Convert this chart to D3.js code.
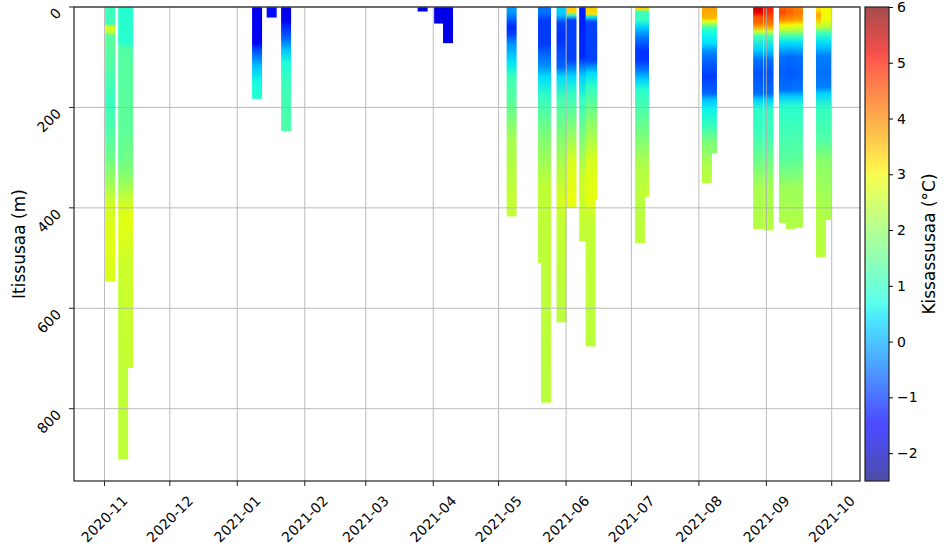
<!DOCTYPE html>
<html>
<head>
<meta charset="utf-8">
<title>Itissusaa</title>
<script src="https://d3js.org/d3.v7.min.js"></script>
<style>
    body { margin: 0; background: #fff; }
    text { font-family: "DejaVu Sans", sans-serif; fill: #000; }
</style>
</head>
<body>
<div id="chart"></div>

<script type="text/javascript">
    // one entry per cast, UTC "YYYY-MM-DD HH"
    let castDates = [
        "2020-11-03 15", "2020-11-09 14", "2020-11-11 21",
        "2021-01-10 02", "2021-01-16 19", "2021-01-23 10",
        "2021-03-27 03", "2021-04-03 17", "2021-04-07 19",
        "2021-05-07 00", "2021-05-21 10", "2021-05-22 19", "2021-05-29 22",
        "2021-06-03 12", "2021-06-09 07", "2021-06-12 07", "2021-06-13 00",
        "2021-07-05 00", "2021-07-06 19",
        "2021-08-04 17", "2021-08-07 00", "2021-08-28 05",
        "2021-09-02 00", "2021-09-09 02", "2021-09-12 07", "2021-09-15 12",
        "2021-09-26 02", "2021-09-28 10"
    ]

    // temperature profiles: [depth m, temperature °C], last row is the cast bottom
    let castProfiles = [
        [[0,1.1],[34,1.1],[38,2.6],[50,2.5],[56,1.4],[120,1.3],[185,1.05],[250,1.3],[300,1.6],[350,2.1],[390,2.6],[450,2.8],[547,2.75]],
        [[0,0.85],[70,0.9],[80,1.3],[200,1.4],[300,1.5],[350,2.0],[400,2.7],[450,2.8],[520,2.55],[720,2.45],[901,2.45]],
        [[0,0.85],[72,0.9],[85,1.35],[250,1.45],[330,1.8],[380,2.5],[420,2.85],[500,2.6],[719,2.5]],
        [[0,-1.7],[72,-1.6],[86,-0.8],[119,0.2],[152,0.7],[183,0.9]],
        [[0,-1.35],[21,-1.35]],
        [[0,-1.75],[26,-1.7],[45,-1.0],[66,-0.5],[86,0.2],[112,0.8],[152,1.1],[247,1.3]],
        [[0,-1.75],[9,-1.75]],
        [[0,-1.75],[33,-1.75]],
        [[0,-1.75],[72,-1.75]],
        [[0,-0.1],[12,-0.2],[39,-1.1],[55,-0.9],[72,-0.25],[112,0.5],[139,1.1],[199,1.5],[265,2.2],[385,2.5],[417,2.45]],
        [[0,-0.45],[12,-0.5],[26,-0.95],[72,-0.95],[119,-0.2],[139,0.4],[179,1.0],[252,1.75],[358,2.45],[510,2.4]],
        [[0,-0.45],[12,-0.5],[26,-0.95],[72,-0.95],[119,-0.2],[139,0.4],[179,1.0],[252,1.75],[358,2.45],[788,2.4]],
        [[0,0.3],[15,0.2],[32,-0.9],[60,-1.05],[119,-0.6],[139,0.4],[185,1.2],[305,2.2],[385,2.7],[420,2.5],[628,2.4]],
        [[0,3.4],[10,3.3],[16,1.0],[26,-0.9],[106,-0.9],[139,0.4],[172,1.0],[239,1.8],[305,2.7],[385,2.9],[400,2.7]],
        [[0,-1.2],[100,-1.1],[139,0.3],[185,1.0],[265,1.8],[345,2.6],[467,2.45]],
        [[0,3.4],[14,3.2],[20,0.5],[30,-0.9],[106,-0.9],[132,0.4],[159,1.0],[218,1.8],[305,2.7],[385,2.85],[420,2.5],[676,2.4]],
        [[0,3.4],[14,3.2],[20,0.5],[30,-0.9],[106,-0.9],[132,0.4],[159,1.0],[218,1.8],[305,2.7],[384,2.85]],
        [[0,3.4],[5,3.2],[8,1.2],[26,1.0],[40,0.3],[59,-0.4],[86,-1.0],[105,-1.0],[125,-0.45],[145,0.3],[165,0.9],[185,1.1],[252,1.7],[318,2.3],[470,2.45]],
        [[0,3.4],[5,3.2],[8,1.2],[26,1.0],[40,0.3],[59,-0.4],[86,-1.0],[105,-1.0],[125,-0.45],[145,0.3],[165,0.9],[185,1.1],[252,1.7],[318,2.3],[378,2.5]],
        [[0,3.8],[22,3.6],[28,2.8],[33,2.3],[40,1.2],[50,0.7],[73,0.4],[86,-0.2],[106,-0.6],[139,-0.95],[172,-0.6],[185,0.2],[205,0.6],[238,1.1],[271,1.8],[318,2.3],[351,2.4]],
        [[0,3.8],[22,3.6],[28,2.8],[33,2.3],[40,1.2],[50,0.7],[73,0.4],[86,-0.2],[106,-0.6],[139,-0.95],[172,-0.6],[185,0.2],[205,0.6],[238,1.1],[271,1.8],[291,1.9]],
        [[0,5.6],[12,5.2],[20,4.5],[32,4.3],[39,3.8],[49,2.5],[59,1.1],[86,0.3],[105,-0.5],[132,-0.75],[172,-0.55],[185,0.3],[205,0.95],[252,1.1],[305,1.6],[360,2.2],[442,2.35]],
        [[0,5.0],[12,4.8],[20,4.5],[32,4.2],[39,3.8],[49,2.5],[59,1.1],[86,0.3],[105,-0.5],[132,-0.75],[172,-0.55],[185,0.3],[205,0.95],[252,1.1],[305,1.6],[360,2.2],[445,2.35]],
        [[0,4.3],[10,4.6],[26,4.0],[36,3.0],[46,2.4],[59,1.1],[72,0.4],[99,-0.5],[132,-0.65],[165,-0.5],[178,0.25],[198,0.9],[305,1.4],[360,2.1],[430,2.3]],
        [[0,4.2],[10,4.4],[26,3.9],[36,3.0],[46,2.4],[59,1.1],[72,0.4],[99,-0.55],[132,-0.7],[165,-0.5],[178,0.25],[198,0.9],[305,1.4],[360,2.1],[442,2.3]],
        [[0,4.0],[10,4.2],[26,3.8],[36,2.9],[46,2.3],[59,1.1],[72,0.4],[99,-0.5],[132,-0.65],[165,-0.45],[178,0.25],[198,0.9],[305,1.45],[360,2.1],[440,2.3]],
        [[0,3.2],[8,3.3],[15,3.8],[26,3.4],[39,2.5],[52,1.1],[72,0.4],[99,-0.4],[130,-0.5],[159,-0.4],[172,0.3],[200,1.0],[265,1.3],[305,1.9],[400,2.3],[498,2.4]],
        [[0,3.0],[8,3.0],[26,2.9],[39,2.4],[52,1.1],[72,0.4],[99,-0.4],[130,-0.5],[159,-0.4],[172,0.3],[200,1.0],[265,1.3],[305,1.9],[424,2.3]]
    ]

    let depthTicks = [0, 200, 400, 600, 800]
    let tempTicks = [-2, -1, 0, 1, 2, 3, 4, 5, 6]
    let timeDomain = ["2020-10-18 00", "2021-10-14 00"]
    let depthDomain = [0, 944]
    let tempDomain = [-2.5, 6]

    let W = 944, H = 547
    let margin = {top: 7, right: 84, bottom: 66, left: 74}
    let w = W - margin.left - margin.right
    let h = H - margin.top - margin.bottom
    let markerSize = 10
    let gridColor = "#b0b0b0"

    let parseTime = d3.utcParse("%Y-%m-%d %H")

    let svg = d3.select("#chart")
        .append("svg")
            .attr("width", W)
            .attr("height", H)

    let defs = svg.append("defs")

    // matplotlib "jet" colormap built from its segment table
    let jetR = d3.scaleLinear().domain([0, 0.35, 0.66, 0.89, 1]).range([0, 0, 1, 1, 0.5]).clamp(true)
    let jetG = d3.scaleLinear().domain([0, 0.125, 0.375, 0.64, 0.91, 1]).range([0, 0, 1, 1, 0, 0]).clamp(true)
    let jetB = d3.scaleLinear().domain([0, 0.11, 0.34, 0.65, 1]).range([0.5, 1, 1, 0, 0]).clamp(true)
    function jet(t) {
        return d3.rgb(255 * jetR(t), 255 * jetG(t), 255 * jetB(t)).formatHex()
    }

    let xScale = d3.scaleUtc()
        .domain(timeDomain.map(parseTime))
        .range([margin.left, margin.left + w])

    let yScale = d3.scaleLinear()
        .domain(depthDomain)
        .range([margin.top, margin.top + h])

    let color = d3.scaleSequential(jet).domain(tempDomain)

    let cScale = d3.scaleLinear()
        .domain(tempDomain)
        .range([margin.top + h, margin.top])

    let months = xScale.ticks(d3.utcMonth.every(1))
    let fmtMonth = d3.utcFormat("%Y-%m")

    // casts: one gradient-filled column each
    let casts = castDates.map(function(d, i) {
        return {date: parseTime(d), profile: castProfiles[i]}
    })

    casts.forEach(function(c, i) {
        let bottom = c.profile[c.profile.length - 1][0]
        defs.append("linearGradient")
            .attr("id", "cast" + i)
            .attr("gradientUnits", "userSpaceOnUse")
            .attr("x1", 0).attr("x2", 0)
            .attr("y1", yScale(0)).attr("y2", yScale(bottom))
            .selectAll("stop")
            .data(c.profile)
            .enter()
            .append("stop")
            .attr("offset", function(p) { return p[0] / bottom })
            .attr("stop-color", function(p) { return color(p[1]) })
    })

    let plot = svg.append("g")

    plot.selectAll("rect.cast")
        .data(casts)
        .enter()
        .append("rect")
        .attr("class", "cast")
        .attr("x", function(c) { return xScale(c.date) - markerSize / 2 })
        .attr("width", markerSize)
        .attr("y", yScale(0))
        .attr("height", function(c) { return yScale(c.profile[c.profile.length - 1][0]) - yScale(0) })
        .attr("fill", function(c, i) { return "url(#cast" + i + ")" })

    // grid sits above the casts, like matplotlib
    let grid = svg.append("g")
        .attr("stroke", gridColor)
        .attr("stroke-width", 1)
        .attr("opacity", 0.85)

    grid.selectAll("line.vx")
        .data(months)
        .enter()
        .append("line")
        .attr("x1", function(d) { return xScale(d) })
        .attr("x2", function(d) { return xScale(d) })
        .attr("y1", margin.top)
        .attr("y2", margin.top + h)

    grid.selectAll("line.hy")
        .data(depthTicks)
        .enter()
        .append("line")
        .attr("x1", margin.left)
        .attr("x2", margin.left + w)
        .attr("y1", function(d) { return yScale(d) })
        .attr("y2", function(d) { return yScale(d) })

    svg.append("rect")
        .attr("x", margin.left)
        .attr("y", margin.top)
        .attr("width", w)
        .attr("height", h)
        .attr("fill", "none")
        .attr("stroke", "#222")
        .attr("stroke-width", 1.2)

    // x axis
    let xAxis = svg.append("g")
    xAxis.selectAll("line")
        .data(months)
        .enter()
        .append("line")
        .attr("x1", function(d) { return xScale(d) })
        .attr("x2", function(d) { return xScale(d) })
        .attr("y1", margin.top + h)
        .attr("y2", margin.top + h + 5)
        .attr("stroke", "#222")

    xAxis.selectAll("text")
        .data(months)
        .enter()
        .append("text")
        .attr("transform", function(d) {
            return "translate(" + xScale(d) + "," + (margin.top + h + 38) + ") rotate(-45)"
        })
        .attr("text-anchor", "middle")
        .attr("dy", "0.35em")
        .attr("font-size", "14px")
        .text(fmtMonth)

    // y axis
    let yAxis = svg.append("g")
    yAxis.selectAll("line")
        .data(depthTicks)
        .enter()
        .append("line")
        .attr("x1", margin.left - 5)
        .attr("x2", margin.left)
        .attr("y1", function(d) { return yScale(d) })
        .attr("y2", function(d) { return yScale(d) })
        .attr("stroke", "#222")

    yAxis.selectAll("text")
        .data(depthTicks)
        .enter()
        .append("text")
        .attr("text-anchor", "middle")
        .attr("dy", "0.35em")
        .attr("font-size", "14px")
        .text(function(d) { return d })
        .attr("transform", function(d) {
            let s = (this.getComputedTextLength() + 10) * Math.SQRT1_2
            return "translate(" + (margin.left - 12 - s / 2) + "," + (yScale(d) + s / 2) + ") rotate(-45)"
        })

    svg.append("text")
        .attr("transform", "translate(19," + (margin.top + h / 2) + ") rotate(-90)")
        .attr("text-anchor", "middle")
        .attr("dy", "0.35em")
        .attr("font-size", "17px")
        .text("Itissusaa (m)")

    // colorbar
    let cbX = 865, cbW = 24
    let cbGrad = defs.append("linearGradient")
        .attr("id", "cbar")
        .attr("x1", 0).attr("x2", 0)
        .attr("y1", 1).attr("y2", 0)
    cbGrad.selectAll("stop")
        .data(d3.range(0, 65).map(function(k) { return k / 64 }))
        .enter()
        .append("stop")
        .attr("offset", function(t) { return t })
        .attr("stop-color", function(t) { return jet(t) })
        .attr("stop-opacity", 0.7)

    svg.append("rect")
        .attr("x", cbX)
        .attr("y", cScale(tempDomain[1]))
        .attr("width", cbW)
        .attr("height", cScale(tempDomain[0]) - cScale(tempDomain[1]))
        .attr("fill", "url(#cbar)")
        .attr("stroke", "#222")
        .attr("stroke-width", 1.2)

    let cAxis = d3.axisRight(cScale)
        .tickValues(tempTicks)
        .tickSize(4)
        .tickPadding(4)
        .tickFormat(d3.format("d"))

    svg.append("g")
        .attr("transform", "translate(" + (cbX + cbW) + ",0)")
        .call(cAxis)
        .call(function(g) { g.select(".domain").remove() })
        .call(function(g) {
            g.selectAll("text")
                .attr("font-size", "14px")
                .attr("font-family", "DejaVu Sans, sans-serif")
        })

    svg.append("text")
        .attr("transform", "translate(929," + (margin.top + h / 2) + ") rotate(-90)")
        .attr("text-anchor", "middle")
        .attr("dy", "0.35em")
        .attr("font-size", "17px")
        .text("Kissassusaa (°C)")
</script>
</body>
</html>
